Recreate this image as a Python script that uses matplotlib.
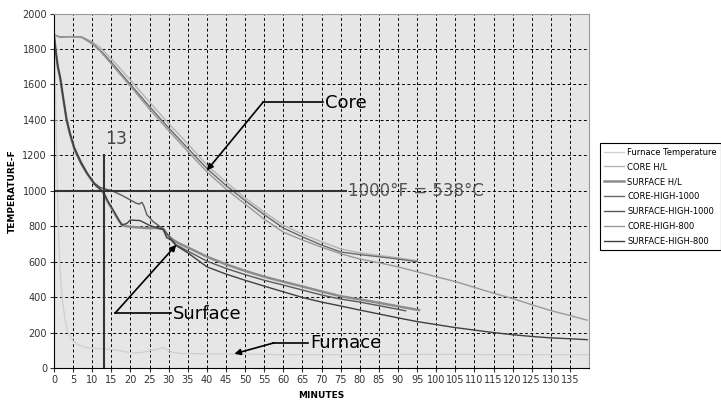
import numpy as np
import matplotlib
matplotlib.use("Agg")
import matplotlib.pyplot as plt

# furnace temperature
furn_t = [0, 0.3, 0.6, 0.9, 1.2, 1.6, 2.2, 3, 3.6, 4.5, 5, 6, 8, 10, 12, 15, 17, 19, 21, 23, 25,
          27, 28.5, 29.5, 31, 33, 40, 50, 60, 80, 100, 120, 140]
furn_v = [1880, 1700, 1300, 1000, 750, 550, 380, 260, 200, 170, 155, 135, 118, 112, 108, 105, 100,
          90, 85, 88, 97, 105, 115, 105, 88, 82, 80, 78, 75, 75, 77, 75, 75]

# core curves
core_t = [0, 1.5, 4, 7, 8, 10, 12, 15, 20, 25, 30, 35, 40, 45, 50, 55, 60, 65, 70, 75, 80, 85, 90, 95]
core_hl = [1880, 1868, 1870, 1870, 1862, 1840, 1810, 1745, 1625, 1500, 1380, 1265, 1145, 1050, 960,
           880, 806, 755, 712, 672, 650, 635, 622, 605]
core_1000 = [1880, 1868, 1870, 1868, 1858, 1832, 1795, 1725, 1600, 1475, 1355, 1240, 1126, 1030, 945,
             865, 790, 740, 694, 655, 640, 628, 615, 600]
core800_t = core_t + [100, 105, 110, 115, 120, 125, 130, 135, 139.5]
core_800 = [1880, 1868, 1870, 1868, 1856, 1828, 1790, 1715, 1590, 1460, 1340, 1222, 1107, 1010, 925,
            840, 767, 722, 682, 645, 615, 594, 571, 543, 515, 488, 455, 422, 392, 357, 324, 296, 270]

# surface curves
surf_hl_t = [0, 0.5, 1, 1.6, 2.5, 3.3, 4.2, 5.3, 7, 8.6, 10.5, 12.9, 14, 15.5, 17, 18, 19, 21, 24, 27,
             28.6, 29.5, 31, 33, 36, 40, 45, 50, 55, 60, 65, 70, 75, 80, 85, 90, 95.5]
surf_hl = [1880, 1780, 1700, 1640, 1510, 1400, 1320, 1240, 1160, 1100, 1040, 990, 940, 885, 830, 805,
           800, 795, 790, 790, 785, 755, 725, 700, 670, 628, 585, 548, 515, 487, 460, 432, 405, 387,
           368, 348, 327]
surf1000_t = [0, 0.5, 1, 1.6, 2.5, 3.3, 4.2, 5.3, 7, 8.6, 10.5, 12, 13.4, 15, 17.7, 20, 21.5, 22.3,
              23, 23.5, 24.3, 26, 28.6, 30, 32, 35, 40, 45, 50, 55, 60, 65, 70, 75, 80, 85, 92]
surf_1000 = [1880, 1775, 1695, 1635, 1505, 1395, 1315, 1235, 1155, 1098, 1045, 1020, 1010, 1002, 975,
             948, 930, 925, 935, 915, 865, 825, 785, 745, 695, 660, 603, 562, 527, 495, 468, 440, 412,
             389, 372, 352, 323]
surf800_t = [0, 0.5, 1, 1.6, 2.5, 3.3, 4.2, 5.3, 7, 8.6, 10.5, 12.9, 14, 15.5, 17.7, 19, 20, 22.5, 25,
             28.6, 29.5, 30.5, 32, 35, 40, 45, 50, 55, 60, 65, 70, 75, 80, 85, 90, 95, 100, 105, 110,
             115, 120, 125, 130, 135, 139.5]
surf_800 = [1880, 1785, 1705, 1645, 1515, 1405, 1325, 1245, 1165, 1102, 1040, 994, 945, 891, 807, 815,
            835, 832, 805, 780, 735, 725, 690, 650, 571, 530, 495, 462, 430, 398, 372, 350, 327, 305,
            283, 262, 245, 228, 214, 200, 188, 178, 170, 165, 160]

fig = plt.figure(figsize=(7.21, 4.0), dpi=100)
ax = fig.add_axes([0.0749, 0.08, 0.7421, 0.886])
ax.set_facecolor("#e6e6e6")

ax.plot(furn_t, furn_v, color="#cfcfcf", lw=0.9, label="Furnace Temperature")
ax.plot(core_t, core_hl, color="#b4b4b4", lw=1.0, label="CORE H/L")
ax.plot(surf_hl_t, surf_hl, color="#8c8c8c", lw=1.8, label="SURFACE H/L")
ax.plot(core_t, core_1000, color="#6a6a6a", lw=1.0, label="CORE-HIGH-1000")
ax.plot(surf1000_t, surf_1000, color="#5a5a5a", lw=1.0, label="SURFACE-HIGH-1000")
ax.plot(core800_t, core_800, color="#999999", lw=1.0, label="CORE-HIGH-800")
ax.plot(surf800_t, surf_800, color="#404040", lw=1.0, label="SURFACE-HIGH-800")

# reference lines
ax.plot([13, 13], [0, 1200], color="#333333", lw=1.5)
ax.plot([0, 76.5], [1000, 1000], color="#333333", lw=1.5)
ax.text(13.4, 1290, "13", fontsize=12.5, color="#444444", va="center", ha="left")
ax.text(77, 1000, "1000°F = 538°C", fontsize=12, color="#555555", va="center", ha="left")

# callouts
arr = dict(arrowstyle="-|>", color="black", lw=1.2, mutation_scale=9, shrinkA=0, shrinkB=0)
ax.plot([54.7, 70.5], [1500, 1500], color="black", lw=1.2)
ax.annotate("", xy=(40, 1115), xytext=(54.7, 1500), arrowprops=arr)
ax.text(71, 1495, "Core", fontsize=13, va="center", ha="left")

ax.plot([16, 30.6], [310, 310], color="black", lw=1.2)
ax.annotate("", xy=(32, 695), xytext=(16, 310), arrowprops=arr)
ax.text(31, 305, "Surface", fontsize=13, va="center", ha="left")

ax.plot([57.4, 66.5], [141, 141], color="black", lw=1.2)
ax.annotate("", xy=(47.2, 80), xytext=(57.4, 141), arrowprops=arr)
ax.text(67, 141, "Furnace", fontsize=13, va="center", ha="left")

ax.set_xlim(0, 140)
ax.set_ylim(0, 2000)
ax.set_xticks(np.arange(0, 136, 5))
ax.set_yticks(np.arange(0, 2001, 200))
ax.grid(True, color="black", ls=(0, (3, 2.5)), lw=0.7)
ax.set_axisbelow(True)
ax.tick_params(labelsize=7, colors="#333333", length=3, width=0.8, pad=2)
for s in ["top", "right"]:
    ax.spines[s].set_color("#999999")
for s in ["left", "bottom"]:
    ax.spines[s].set_color("black")

ax.set_xlabel("MINUTES", fontsize=6.5, fontweight="bold", labelpad=4)
ax.set_ylabel("TEMPERATURE-F", fontsize=6.5, fontweight="bold", labelpad=4)

leg = ax.legend(loc="upper left", bbox_to_anchor=(0.826, 0.652), bbox_transform=fig.transFigure,
                fontsize=6.0, frameon=True, fancybox=False, framealpha=1, edgecolor="black",
                handlelength=2.4, handletextpad=0.4, labelspacing=0.7, borderpad=0.5)
leg.get_frame().set_linewidth(0.8)

fig.savefig("out.png", dpi=100)
